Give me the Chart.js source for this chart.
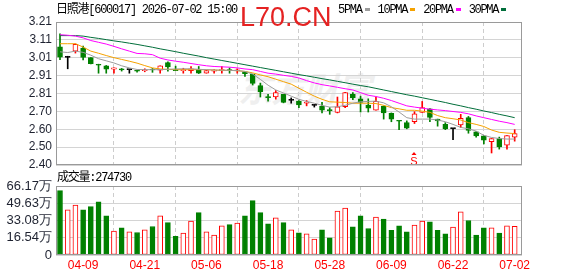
<!DOCTYPE html>
<html>
<head>
<meta charset="utf-8">
<title>日照港 600017</title>
<script src="https://cdn.jsdelivr.net/npm/chart.js@4.4.1/dist/chart.umd.min.js"></script>
<style>
  html, body { margin:0; padding:0; background:#fff; }
  #wrap { position:relative; width:578px; height:276px; overflow:hidden; background:#fff; }
  #wrap canvas { position:absolute; left:0; }
  #priceCv { top:0; }
  #volCv { top:170px; }
  .mono { position:absolute; white-space:nowrap; font-family:"Liberation Mono","Noto Sans CJK SC",monospace;
          font-size:12px; line-height:12px; letter-spacing:-1.25px; color:#000; }
  #legend { position:absolute; left:338px; top:3.5px; display:flex; align-items:flex-start; }
  #legend span { font-family:"Liberation Mono",monospace; font-size:12px; line-height:12px; letter-spacing:-1.3px; color:#000; }
  #legend i { display:inline-block; width:5px; height:3px; margin:4.5px 8px 0 3px; }
  #mark { position:absolute; left:240px; top:4px; font:27px/27px "Liberation Sans",Arial,sans-serif; color:#e52222; }
  #logo { position:absolute; left:238px; top:68px; font:italic bold 34px/40px "Noto Sans CJK SC",sans-serif;
          color:#efefef; letter-spacing:-1px; }
</style>
</head>
<body>
<div id="wrap">
  <div id="logo">东方财富</div>
  <canvas id="priceCv" width="578" height="180"></canvas>
  <canvas id="volCv" width="578" height="106"></canvas>
  <div class="mono" style="left:56px;top:3.5px">日照港[600017] 2026-07-02 15:00</div>
  <div id="mark">L70.CN</div>
  <div id="legend"></div>
  <div class="mono" style="left:57px;top:172px">成交量:274730</div>
</div>
<script>
// axis labels
const DATE_LABELS = ['04-09','04-21','05-06','05-18','05-28','06-09','06-22','07-02'];
const DATE_IDX = [3, 11, 19, 27, 35, 43, 51, 59];
const PRICE_TICKS = ['2.40','2.50','2.60','2.70','2.81','2.91','3.01','3.11','3.21'];
const VOL_TICKS = ['0','16.54万','33.08万','49.63万','66.17万'];
const MA_NAMES = ['5PMA','10PMA','20PMA','30PMA'];

// daily k-line (60 trading days)
const OPEN  = [3.070,3.010,3.045,3.062,3.008,2.970,2.962,2.943,2.942,2.940,
               2.933,2.934,2.942,2.937,2.980,2.940,2.935,2.935,2.940,2.920,
               2.932,2.935,2.940,2.933,2.928,2.913,2.850,2.785,2.785,2.800,
               2.766,2.762,2.750,2.738,2.733,2.712,2.698,2.730,2.800,2.775,
               2.740,2.710,2.733,2.692,2.652,2.640,2.646,2.698,2.718,2.660,
               2.630,2.606,2.627,2.668,2.588,2.565,2.532,2.550,2.513,2.558];
const HIGH  = [3.143,3.016,3.086,3.073,3.009,2.971,2.964,2.951,2.947,2.940,
               2.936,2.945,2.947,2.962,2.985,2.960,2.948,2.958,2.958,2.937,
               2.940,2.958,2.950,2.945,2.930,2.915,2.864,2.800,2.822,2.800,
               2.780,2.765,2.765,2.742,2.755,2.725,2.785,2.812,2.810,2.790,
               2.775,2.785,2.735,2.695,2.652,2.650,2.702,2.760,2.720,2.660,
               2.640,2.608,2.687,2.675,2.590,2.567,2.550,2.558,2.566,2.600];
const LOW   = [2.996,2.945,3.034,2.995,2.972,2.920,2.920,2.920,2.932,2.920,
               2.926,2.928,2.925,2.920,2.932,2.935,2.920,2.920,2.918,2.920,
               2.920,2.920,2.920,2.920,2.902,2.853,2.785,2.762,2.773,2.752,
               2.750,2.725,2.735,2.728,2.695,2.687,2.695,2.725,2.770,2.700,
               2.700,2.710,2.660,2.645,2.600,2.605,2.635,2.698,2.645,2.620,
               2.600,2.544,2.612,2.580,2.558,2.520,2.468,2.490,2.490,2.535];
const CLOSE = [3.011,3.010,3.083,3.009,2.974,2.965,2.943,2.951,2.939,2.940,
               2.931,2.938,2.938,2.962,2.955,2.935,2.940,2.945,2.920,2.935,
               2.936,2.940,2.934,2.936,2.917,2.862,2.815,2.782,2.810,2.755,
               2.766,2.740,2.753,2.738,2.710,2.708,2.730,2.810,2.782,2.755,
               2.722,2.760,2.695,2.660,2.648,2.608,2.690,2.725,2.670,2.650,
               2.605,2.606,2.665,2.596,2.565,2.540,2.550,2.502,2.566,2.578];
// volume, unit 万
const VOLUME = [61.7,43.3,47.8,43.3,46.4,50.9,37.5,22.9,26.1,22.3,
                21.6,24.2,27.3,37.5,31.1,17.8,21.0,32.5,40.7,22.3,
                19.1,28.0,29.2,30.6,37.5,52.1,40.7,29.9,35.6,31.1,
                24.2,21.3,20.3,15.3,24.2,16.5,42.0,44.9,27.0,37.5,
                25.4,36.3,34.4,23.6,28.0,22.3,28.6,32.5,31.8,23.6,
                20.3,26.7,41.4,33.1,19.1,26.1,26.1,21.0,28.0,27.47];
// moving averages as drawn
const MA5  = [3.041,3.037,3.045,3.038,3.022,3.002,2.990,2.978,2.962,2.950,
              2.941,2.940,2.940,2.940,2.942,2.944,2.945,2.945,2.942,2.940,
              2.938,2.937,2.936,2.935,2.930,2.915,2.885,2.852,2.825,2.808,
              2.790,2.772,2.760,2.750,2.738,2.728,2.730,2.738,2.750,2.758,
              2.760,2.762,2.752,2.730,2.700,2.668,2.660,2.660,2.660,2.655,
              2.645,2.630,2.613,2.605,2.592,2.568,2.556,2.550,2.547,2.547];
const MA10 = [3.087,3.087,3.087,3.068,3.045,3.033,3.020,3.008,2.998,2.988,
              2.977,2.963,2.950,2.944,2.942,2.940,2.940,2.940,2.940,2.940,
              2.938,2.936,2.936,2.934,2.930,2.922,2.910,2.900,2.886,2.872,
              2.858,2.835,2.812,2.790,2.772,2.758,2.756,2.754,2.750,2.750,
              2.750,2.748,2.738,2.725,2.718,2.710,2.710,2.705,2.698,2.680,
              2.668,2.662,2.655,2.640,2.630,2.618,2.598,2.585,2.581,2.578];
const MA20 = [3.138,3.135,3.130,3.120,3.105,3.095,3.085,3.072,3.058,3.045,
              3.032,3.030,3.025,3.005,2.995,2.988,2.982,2.975,2.968,2.962,
              2.958,2.956,2.954,2.950,2.944,2.940,2.930,2.920,2.915,2.908,
              2.902,2.893,2.878,2.865,2.855,2.848,2.840,2.832,2.825,2.810,
              2.795,2.788,2.778,2.765,2.750,2.735,2.728,2.722,2.716,2.712,
              2.708,2.703,2.698,2.690,2.678,2.668,2.658,2.648,2.640,2.630];
const MA30 = [3.133,3.133,3.133,3.130,3.123,3.117,3.110,3.103,3.097,3.090,
              3.083,3.075,3.067,3.058,3.050,3.042,3.033,3.025,3.017,3.008,
              3.000,2.992,2.984,2.976,2.968,2.960,2.952,2.944,2.936,2.928,
              2.920,2.912,2.905,2.897,2.889,2.882,2.874,2.866,2.858,2.850,
              2.843,2.834,2.825,2.816,2.807,2.798,2.790,2.781,2.772,2.763,
              2.754,2.744,2.735,2.725,2.716,2.706,2.697,2.687,2.678,2.668];
const SIGNALS = [{i: 46, text: 'S'}];

const UP = '#ff0000', DOWN = '#008000', FLAT = '#000000';
const MA_COLORS = ['#9c9c9c', '#f5a200', '#ff00ff', '#006e3a'];
const IDX = CLOSE.map((_, i) => i);
const X_MIN = -0.52, X_MAX = 59.95;

const candleColor = i => CLOSE[i] > OPEN[i] ? UP : CLOSE[i] < OPEN[i] ? DOWN : FLAT;
const volColor = i => CLOSE[i] >= OPEN[i] ? UP : DOWN;

// legend
document.getElementById('legend').innerHTML = MA_NAMES.map((n, k) =>
  `<span>${n}</span><i style="background:${MA_COLORS[k]}"></i>`).join('');

const frame = {
  id: 'frame',
  afterDraw(chart) {
    const {ctx, chartArea: a} = chart;
    ctx.save();
    ctx.strokeStyle = '#9a9a9a';
    ctx.lineWidth = 1;
    ctx.strokeRect(Math.round(a.left) + 0.5, Math.round(a.top) + 0.5,
                   Math.round(a.right - a.left) - 1, Math.round(a.bottom - a.top) - 1);
    ctx.restore();
  }
};

const signals = {
  id: 'signals',
  afterDatasetsDraw(chart) {
    const {ctx, chartArea, scales} = chart;
    ctx.save();
    ctx.fillStyle = UP;
    ctx.font = '11px "Liberation Sans", Arial';
    ctx.textAlign = 'center';
    ctx.textBaseline = 'alphabetic';
    SIGNALS.forEach(s => {
      const x = Math.round(scales.x.getPixelForValue(s.i));
      const yb = chartArea.bottom - 0.5;
      ctx.fillText(s.text, x, yb);
      ctx.beginPath();
      ctx.moveTo(x, yb - 12.5);
      ctx.lineTo(x - 2.5, yb - 9.5);
      ctx.lineTo(x + 2.5, yb - 9.5);
      ctx.closePath();
      ctx.fill();
    });
    ctx.restore();
  }
};

const tickFont = {family: '"Liberation Sans", Arial, sans-serif', size: 12};

function xAxis(showLabels) {
  return {
    type: 'linear', min: X_MIN, max: X_MAX, offset: false,
    afterBuildTicks: s => { s.ticks = DATE_IDX.map(v => ({value: v})); },
    afterFit: s => { s.height = showLabels ? 21 : 0; },
    grid: {color: '#cdcdcd', lineWidth: 1, drawTicks: false},
    border: {display: false, dash: [4, 3]},
    ticks: {display: showLabels, autoSkip: false, maxRotation: 0, padding: 3, color: '#ff0000', font: tickFont,
            callback: v => DATE_LABELS[DATE_IDX.indexOf(v)]}
  };
}

function yAxis(min, max, labels, size) {
  return {
    position: 'left', min, max,
    afterFit: s => { s.width = 56; },
    grid: {color: '#d4d4d4', drawTicks: false},
    border: {display: false},
    ticks: {count: labels.length, autoSkip: false, padding: 4, color: '#1e2230',
            font: {family: tickFont.family, size},
            callback: (v, i) => labels[i]}
  };
}

const common = {
  responsive: false, animation: false, events: [],
  plugins: {legend: {display: false}, tooltip: {enabled: false}}
};

new Chart(document.getElementById('priceCv'), {
  type: 'bar',
  data: {
    datasets: [
      {data: IDX.map(i => ({x: i, y: [LOW[i], HIGH[i]]})),
       backgroundColor: IDX.map(candleColor), barThickness: 1, grouped: false, order: 3},
      {data: IDX.map(i => ({x: i, y: [OPEN[i], CLOSE[i]]})),
       backgroundColor: IDX.map(i => candleColor(i) === UP ? '#ffffff' : candleColor(i)),
       borderColor: IDX.map(candleColor), borderWidth: 1, borderSkipped: false,
       barThickness: 5, minBarLength: 1, grouped: false, order: 2},
      ...[MA5, MA10, MA20, MA30].map((arr, k) => ({
        type: 'line', data: arr.map((v, i) => ({x: i, y: v})),
        borderColor: MA_COLORS[k], borderWidth: 1, pointRadius: 0, tension: 0, order: 1
      }))
    ]
  },
  options: {
    ...common,
    layout: {padding: {top: 22, right: 56, bottom: 15, left: 0}},
    scales: {x: xAxis(false), y: yAxis(2.40, 3.21, PRICE_TICKS, 12)}
  },
  plugins: [frame, signals]
});

new Chart(document.getElementById('volCv'), {
  type: 'bar',
  data: {
    datasets: [{
      data: IDX.map(i => ({x: i, y: VOLUME[i]})),
      backgroundColor: IDX.map(i => volColor(i) === UP ? '#ffffff' : DOWN),
      borderColor: IDX.map(volColor), borderWidth: 1, borderSkipped: false,
      barThickness: 5, grouped: false
    }]
  },
  options: {
    ...common,
    layout: {padding: {top: 16, right: 56, bottom: 0, left: 0}},
    scales: {x: xAxis(true), y: yAxis(0, 66.17, VOL_TICKS, 13)}
  },
  plugins: [frame]
});
</script>
</body>
</html>
